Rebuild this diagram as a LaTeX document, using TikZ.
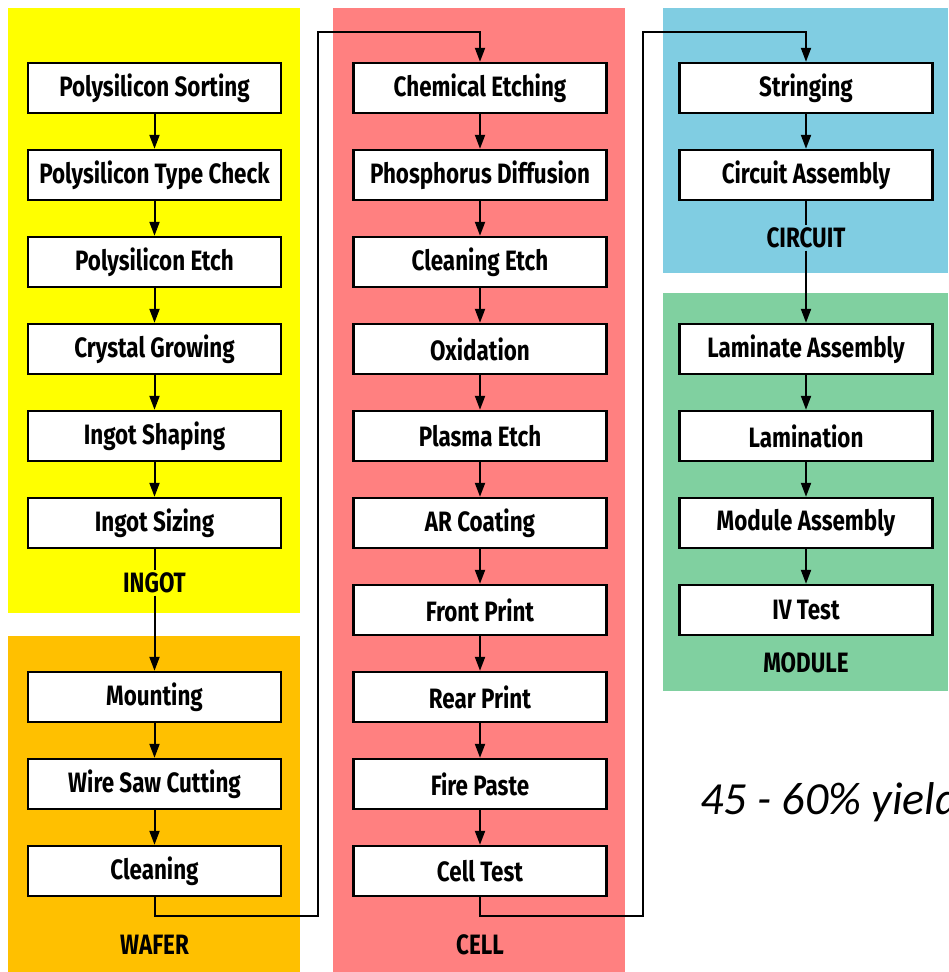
\documentclass[tikz,border=0pt]{standalone}
\usepackage{fontspec}
\setmainfont{Fira Sans}[FakeStretch=0.8]
\newfontfamily\yieldfont{Carlito}
\usetikzlibrary{arrows.meta}
\definecolor{ingotc}{RGB}{255,255,0}
\definecolor{waferc}{RGB}{255,192,0}
\definecolor{cellc}{RGB}{255,128,128}
\definecolor{circc}{RGB}{128,205,226}
\definecolor{modc}{RGB}{128,208,160}

\begin{document}
\begin{tikzpicture}[x=0.5pt, y=-0.5pt, proc/.style={draw, line width=1.2pt,
	fill=white, minimum width=126.5pt, minimum height=25pt, inner sep=0pt,
	font=\fontsize{14}{16}\selectfont\bfseries},
	grp/.style={inner sep=1pt, font=\fontsize{14}{16}\selectfont\bfseries},
	flow/.style={line width=1pt, -{Triangle[width=5pt,length=7pt]}}]
\useasboundingbox (0,0) rectangle (948,972);
\clip (0,0) rectangle (948,972);
% panels
\fill[ingotc] (8,8) rectangle (300,613);
\fill[waferc] (8,636) rectangle (300,972);
\fill[cellc] (333,8) rectangle (625,972);
\fill[circc] (663,8) rectangle (948,273);
\fill[modc] (663,293) rectangle (948,691);
% ingot + wafer
\node[proc] (i1) at (154.5, 88) {Polysilicon Sorting};
\node[proc] (i2) at (154.5, 175) {Polysilicon Type Check};
\node[proc] (i3) at (154.5, 262) {Polysilicon Etch};
\node[proc] (i4) at (154.5, 349) {Crystal Growing};
\node[proc] (i5) at (154.5, 436) {Ingot Shaping};
\node[proc] (i6) at (154.5, 523) {Ingot Sizing};
\node[grp] (ingot) at (154.5, 583) {INGOT};
\node[proc] (w1) at (154.5, 697) {Mounting};
\node[proc] (w2) at (154.5, 784) {Wire Saw Cutting};
\node[proc] (w3) at (154.5, 871) {Cleaning};
\node[grp] (wafer) at (154.5, 945) {WAFER};
% cell
\node[proc] (c1) at (480, 88) {Chemical Etching};
\node[proc] (c2) at (480, 175) {Phosphorus Diffusion};
\node[proc] (c3) at (480, 262) {Cleaning Etch};
\node[proc] (c4) at (480, 349) {Oxidation};
\node[proc] (c5) at (480, 436) {Plasma Etch};
\node[proc] (c6) at (480, 523) {AR Coating};
\node[proc] (c7) at (480, 610) {Front Print};
\node[proc] (c8) at (480, 697) {Rear Print};
\node[proc] (c9) at (480, 784) {Fire Paste};
\node[proc] (c10) at (480, 871) {Cell Test};
\node[grp] (cell) at (480, 945) {CELL};
% circuit + module
\node[proc] (m1) at (806, 88) {Stringing};
\node[proc] (m2) at (806, 175) {Circuit Assembly};
\node[grp] (circuit) at (806, 238) {CIRCUIT};
\node[proc] (m3) at (806, 349) {Laminate Assembly};
\node[proc] (m4) at (806, 436) {Lamination};
\node[proc] (m5) at (806, 523) {Module Assembly};
\node[proc] (m6) at (806, 610) {IV Test};
\node[grp] (module) at (806, 663) {MODULE};
\node[anchor=base west, inner sep=0pt, font=\yieldfont\itshape\fontsize{23}{26}\selectfont]
	(yield) at (700, 814) {45 - 60\% yield};
\coordinate (t1) at (318, 32);
\coordinate (t2) at (643, 32);
% arrows
\draw[flow] (i1) to (i2);
\draw[flow] (i2) to (i3);
\draw[flow] (i3) to (i4);
\draw[flow] (i4) to (i5);
\draw[flow] (i5) to (i6);
\draw[line width=1pt] (i6) to (ingot);
\draw[flow] (ingot) to (w1);
\draw[flow] (w1) to (w2);
\draw[flow] (w2) to (w3);
\draw[flow] (w3.south) -- ++(0,19) -| (t1) -| (c1.north);
\draw[flow] (c1) to (c2);
\draw[flow] (c2) to (c3);
\draw[flow] (c3) to (c4);
\draw[flow] (c4) to (c5);
\draw[flow] (c5) to (c6);
\draw[flow] (c6) to (c7);
\draw[flow] (c7) to (c8);
\draw[flow] (c8) to (c9);
\draw[flow] (c9) to (c10);
\draw[flow] (c10.south) -- ++(0,19) -| (t2) -| (m1.north);
\draw[flow] (m1) to (m2);
\draw[line width=1pt] (m2) to (circuit);
\draw[flow] (circuit) to (m3);
\draw[flow] (m3) to (m4);
\draw[flow] (m4) to (m5);
\draw[flow] (m5) to (m6);
\end{tikzpicture}
\end{document}
